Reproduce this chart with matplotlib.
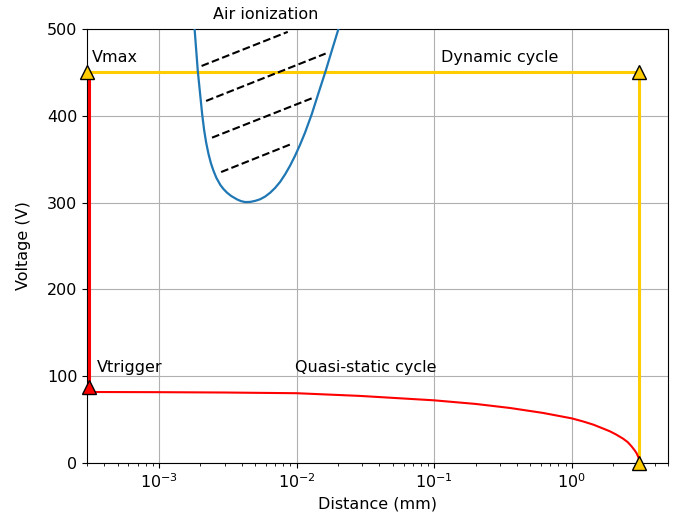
import matplotlib
matplotlib.use("Agg")
import matplotlib.pyplot as plt

plt.rcParams['font.family'] = ['DejaVu Sans']
plt.rcParams['font.size'] = 11.5

# Paschen curve (air ionization)
paschen_x = [1.812e-3, 1.915e-3, 2.061e-3, 2.130e-3, 2.203e-3, 2.289e-3, 2.385e-3, 2.488e-3,
             2.616e-3, 2.796e-3, 2.953e-3, 3.126e-3, 3.357e-3, 3.692e-3, 3.947e-3, 4.239e-3,
             4.607e-3, 5.008e-3, 5.443e-3, 5.916e-3, 6.429e-3, 6.989e-3, 7.597e-3, 8.257e-3,
             8.974e-3, 9.752e-3, 1.060e-2, 1.152e-2, 1.288e-2, 1.447e-2, 1.627e-2, 1.816e-2,
             2.030e-2]
paschen_v = [501.7, 451.7, 401.7, 383.4, 369.1, 356.3, 345.4, 336.8,
             328.4, 320.2, 315.4, 311.4, 307.5, 303.7, 301.7, 300.6,
             300.8, 302.0, 303.9, 307.0, 311.4, 317.0, 323.9, 332.6,
             342.6, 354.0, 366.7, 380.6, 401.7, 426.8, 451.7, 476.7,
             501.7]

# Hatch segments (start x, start V, end x, end V)
hatch_x0 = [2.04e-3, 2.20e-3, 2.43e-3, 2.83e-3]
hatch_v0 = [457.4, 417.1, 374.8, 335.2]
hatch_x1 = [8.63e-3, 1.626e-2, 1.288e-2, 9.33e-3]
hatch_v1 = [496.7, 471.7, 420.1, 368.0]

# Quasi-static cycle (red)
quasi_x = [3.1e-4, 1e-3, 3e-3, 1e-2, 0.0288, 0.1, 0.2014, 0.355, 0.617, 1.0, 1.2,
           1.433, 1.7, 1.892, 2.1, 2.36, 2.55, 2.716, 2.85, 2.951, 3.05, 3.083, 3.1]
quasi_v = [81.8, 81.6, 81.2, 80.4, 77.3, 72.2, 68.0, 63.4, 57.7, 51.4, 48.0,
           44.2, 39.5, 36.5, 32.8, 28.0, 24.0, 19.2, 15.0, 11.5, 6.5, 3.8, 0.0]

x_min = 3e-4
x_trig = 3.1e-4
x_max = 3.1
v_max = 450
v_trigger = 88

fig = plt.figure(figsize=(6.83, 5.16), dpi=100)
ax = fig.add_axes([87/683, 1-463/516, (668-87)/683, (463-29)/516])
ax.set_xscale('log')

gold = '#FFCC00'
# Dynamic cycle (yellow)
ax.plot([x_min, x_max], [v_max, v_max], color=gold, lw=2.2, zorder=2)
ax.plot([x_max, x_max], [v_max, 0], color=gold, lw=2.2, zorder=2)

# Paschen curve
ax.plot(paschen_x, paschen_v, color='#1f77b4', lw=1.6, zorder=3, solid_joinstyle='round')
for a, b, c, d in zip(hatch_x0, hatch_v0, hatch_x1, hatch_v1):
    ax.plot([a, c], [b, d], 'k--', lw=1.5, zorder=3)

# Quasi-static (red)
ax.plot([x_trig, x_trig], [v_trigger, v_max], color='red', lw=2.2, zorder=3, clip_on=False)
ax.plot(quasi_x, quasi_v, color='red', lw=1.5, zorder=3, solid_joinstyle='round')

ax.plot([x_trig], [v_trigger], marker='^', ms=10, mfc='red', mec='black', mew=1,
        ls='none', clip_on=False, zorder=5)
ax.plot([x_min, x_max, x_max], [v_max, v_max, 0], marker='^', ms=10, mfc=gold,
        mec='black', mew=1, ls='none', clip_on=False, zorder=5)

ax.text(3.26e-4, 462, 'Vmax')
ax.text(0.113, 462, 'Dynamic cycle')
ax.text(3.55e-4, 105, 'Vtrigger')
ax.text(9.75e-3, 105, 'Quasi-static cycle')
ax.text(2.49e-3, 511, 'Air ionization', clip_on=False)

ax.set_xlim(x_min, 5)
ax.set_ylim(0, 500)
ax.set_yticks([0, 100, 200, 300, 400, 500])
ax.grid(True, which='major', color='#b0b0b0', lw=0.8)
ax.set_axisbelow(True)
ax.set_xlabel('Distance (mm)')
ax.set_ylabel('Voltage (V)', labelpad=11)

fig.savefig('out.png', dpi=100)
